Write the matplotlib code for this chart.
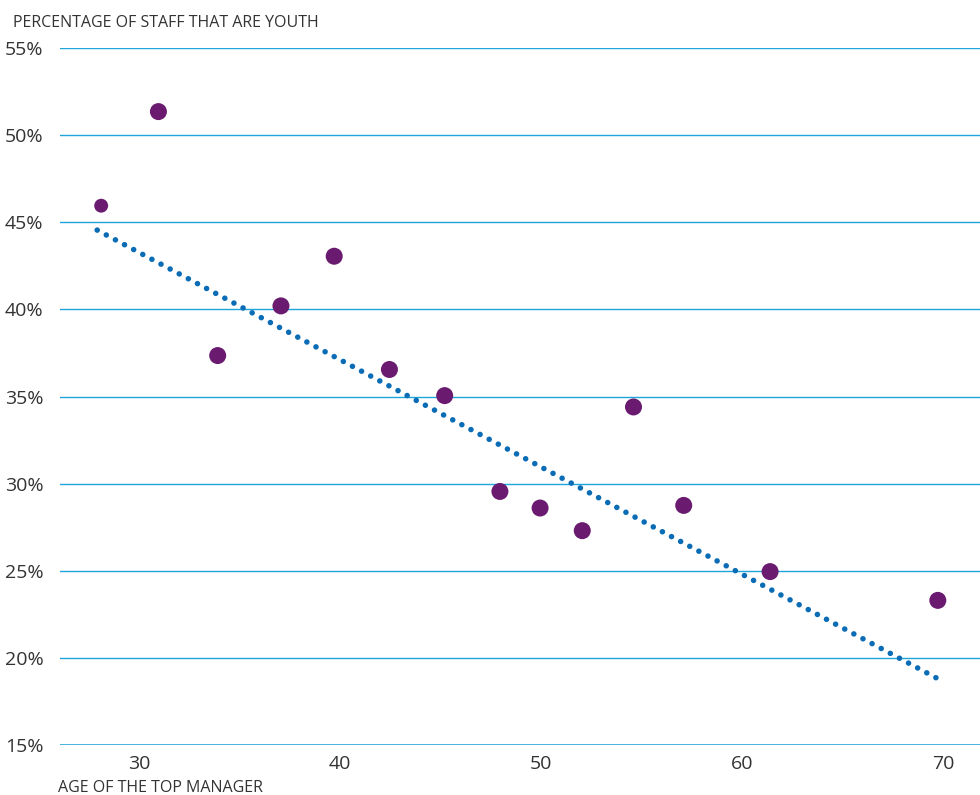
import matplotlib.pyplot as plt

# data
age = [28.1, 30.95, 33.9, 37.05, 39.7, 42.45, 45.2, 47.95, 49.95, 52.05, 54.6, 57.1, 61.4, 69.75]
youth = [45.95, 51.35, 37.35, 40.2, 43.05, 36.55, 35.05, 29.55, 28.6, 27.3, 34.4, 28.75, 24.95, 23.3]
sizes = [100, 150, 150, 150, 150, 150, 150, 150, 150, 150, 150, 150, 150, 150]
trend_x = [27.9, 70.0]
trend_y = [44.55, 18.65]
yticks = [15, 20, 25, 30, 35, 40, 45, 50, 55]
xticks = [30, 40, 50, 60, 70]

plt.rcParams['font.family'] = ['Open Sans', 'DejaVu Sans']
fig = plt.figure(figsize=(9.8, 7.95), dpi=100)
ax = fig.add_axes([60/980, 1-745/795, 1-60/980, 697/795])

grid_c = '#1ea5dc'
for v in yticks[1:]:
    ax.axhline(v, color=grid_c, lw=1.0, zorder=1)
ax.axhline(15, color='#0f9fd8', lw=1.8, zorder=1)

ax.plot(trend_x, trend_y, color='#0b6cb6', lw=4.0, dashes=(0.01, 1.85),
        dash_capstyle='round', zorder=2)
ax.scatter(age, youth, s=sizes, color='#6a1b6f', edgecolors='none', zorder=3)

ax.set_xlim(26.05, 71.85)
ax.set_ylim(15, 55)
ax.set_xticks(xticks)
ax.set_xticklabels([str(t) for t in xticks])
ax.set_yticks(yticks)
ax.set_yticklabels([f'{t}%' for t in yticks])
ax.tick_params(length=0, labelsize=14, colors='#333333')
ax.tick_params(axis='y', pad=12)
ax.tick_params(axis='x', pad=7)
for s in ax.spines.values():
    s.set_visible(False)

fig.text(13/980, 1-23/795, 'PERCENTAGE OF STAFF THAT ARE YOUTH', fontsize=11.5,
         color='#333333', va='center', ha='left')
fig.text(58/980, 1-788/795, 'AGE OF THE TOP MANAGER', fontsize=11.5,
         color='#333333', va='center', ha='left')

fig.savefig('out.png', dpi=100)
